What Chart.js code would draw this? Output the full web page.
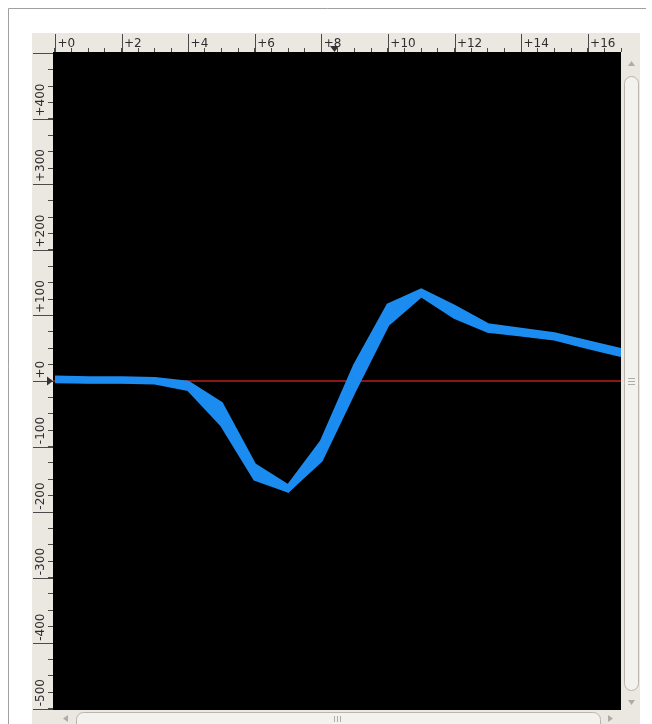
<!DOCTYPE html>
<html>
<head>
<meta charset="utf-8">
<script src="https://cdn.jsdelivr.net/npm/chart.js@4.4.1/dist/chart.umd.min.js"></script>
<style>
  html, body { margin: 0; padding: 0; background: #fff; }
  canvas { display: block; }
</style>
</head>
<body>
<canvas id="traceChart" width="652" height="724"></canvas>
<script>
// sample positions along the top ruler
const samples = [0, 1, 2, 3, 4, 5, 6, 7, 8, 9, 10, 11, 12, 13, 14, 15, 16, 17];

// overlapping traces
const trace1 = [6, 5, 5, 4, -2, -34, -128, -160, -92, 24, 116, 139, 114, 86, 79, 72, 60, 48];
const trace2 = [5, 4, 4, 3, -4, -38, -131, -162, -96, 19, 112, 138, 111, 84, 78, 71, 59, 47];
const trace3 = [4, 4, 3, 2, -5, -43, -135, -163, -99, 15, 108, 137, 109, 82, 77, 70, 57, 45];
const trace4 = [3, 3, 2, 1, -6, -47, -137, -164, -102, 11, 105, 135, 107, 81, 75, 69, 56, 44];
const trace5 = [2, 2, 1, 1, -8, -51, -140, -165, -106, 6, 101, 134, 105, 80, 74, 68, 55, 43];
const trace6 = [2, 1, 1, 0, -9, -55, -142, -166, -109, 2, 98, 133, 103, 79, 73, 67, 54, 42];
const trace7 = [1, 0, 0, -1, -10, -59, -144, -167, -113, -3, 94, 132, 101, 78, 72, 66, 53, 41];
const trace8 = [0, -1, -1, -2, -12, -63, -147, -168, -117, -9, 90, 131, 99, 77, 71, 65, 52, 40];
const trace9 = [-1, -2, -2, -3, -13, -67, -150, -168, -121, -15, 86, 130, 97, 76, 70, 64, 51, 39];
const traceSet = [trace1, trace2, trace3, trace4, trace5, trace6, trace7, trace8, trace9];

// zero reference
const zeroLevel = 0;

// ruler ranges and ticks
const xMin = -0.06;
const xMax = 17;
const xStep = 0.5;
const xLabelEvery = 2;
const yMin = -502;
const yMax = 502;
const yStep = 25;
const yLabelEvery = 100;

const rulerLabel = v => (v >= 0 ? '\u2009+' : '\u2009') + v;

const rulerPlugin = {
    id: 'ruler',
    beforeDraw(chart) {
        const ctx = chart.ctx;
        const a = chart.chartArea;
        ctx.save();
        ctx.fillStyle = '#fff';
        ctx.fillRect(0, 0, chart.width, chart.height);
        // window frame
        ctx.strokeStyle = '#a0a0a0';
        ctx.lineWidth = 1;
        ctx.beginPath();
        ctx.moveTo(8.5, chart.height);
        ctx.lineTo(8.5, 8.5);
        ctx.lineTo(646, 8.5);
        ctx.stroke();
        // rulers and scrollbars background
        ctx.fillStyle = '#ebe8e2';
        ctx.fillRect(32, 33, 608, chart.height - 33);
        // canvas
        ctx.fillStyle = '#000';
        ctx.fillRect(a.left, a.top, a.right - a.left, a.bottom - a.top);
        ctx.restore();
    },
    afterDraw(chart) {
        const ctx = chart.ctx;
        const a = chart.chartArea;
        const xs = chart.scales.x;
        const ys = chart.scales.y;
        ctx.save();
        ctx.strokeStyle = '#4a4a4a';
        ctx.lineWidth = 1;
        ctx.beginPath();
        xs.ticks.forEach(t => {
            if (t.value % xLabelEvery === 0) {
                const px = Math.round(xs.getPixelForValue(t.value)) + 0.5;
                ctx.moveTo(px, 34);
                ctx.lineTo(px, a.top);
            }
        });
        ys.ticks.forEach(t => {
            if (t.value % yLabelEvery === 0) {
                const py = Math.round(ys.getPixelForValue(t.value)) + 0.5;
                ctx.moveTo(33, py);
                ctx.lineTo(a.left, py);
            }
        });
        ctx.stroke();

        // pointer markers
        ctx.fillStyle = '#333';
        ctx.beginPath();
        ctx.moveTo(330, 46); ctx.lineTo(339, 46); ctx.lineTo(334.5, 52);
        ctx.closePath();
        ctx.fill();
        ctx.beginPath();
        ctx.moveTo(47, 376.5); ctx.lineTo(47, 385.5); ctx.lineTo(53, 381);
        ctx.closePath();
        ctx.fill();

        // scrollbars
        ctx.fillStyle = '#f4f2ee';
        ctx.strokeStyle = '#b9b5ad';
        ctx.beginPath();
        ctx.roundRect(624.5, 76.5, 14, 614, 7);
        ctx.fill();
        ctx.stroke();
        ctx.beginPath();
        ctx.roundRect(76.5, 712.5, 524, 20, 7);
        ctx.fill();
        ctx.stroke();

        ctx.fillStyle = '#b0aca4';
        ctx.beginPath();
        ctx.moveTo(628, 66); ctx.lineTo(635, 66); ctx.lineTo(631.5, 61); ctx.closePath();
        ctx.moveTo(628, 700); ctx.lineTo(635, 700); ctx.lineTo(631.5, 705); ctx.closePath();
        ctx.moveTo(68, 715); ctx.lineTo(68, 722); ctx.lineTo(63, 718.5); ctx.closePath();
        ctx.moveTo(608, 715); ctx.lineTo(608, 722); ctx.lineTo(613, 718.5); ctx.closePath();
        ctx.fill();

        ctx.strokeStyle = '#b0aca4';
        ctx.beginPath();
        [378.5, 381.5, 384.5].forEach(y => { ctx.moveTo(628, y); ctx.lineTo(635, y); });
        [334.5, 337.5, 340.5].forEach(x => { ctx.moveTo(x, 716); ctx.lineTo(x, 722); });
        ctx.stroke();
        ctx.restore();
    }
};

const traceDatasets = traceSet.map((values, i) => ({
    label: 'trace ' + (i + 1),
    data: samples.map((x, j) => ({ x: x, y: values[j] })),
    borderColor: 'rgb(28, 140, 240)',
    borderWidth: 3,
    pointRadius: 0,
    tension: 0,
    order: 1
}));

const zeroDataset = {
    label: 'zero',
    data: [{ x: xMin, y: zeroLevel }, { x: xMax, y: zeroLevel }],
    borderColor: 'rgb(140, 22, 22)',
    borderWidth: 2,
    pointRadius: 0,
    order: 2
};

Chart.defaults.font.family = '"DejaVu Sans", sans-serif';
Chart.defaults.font.size = 12;
Chart.defaults.color = '#2e2e2e';

new Chart(document.getElementById('traceChart'), {
    type: 'line',
    data: { datasets: [...traceDatasets, zeroDataset] },
    options: {
        responsive: false,
        animation: false,
        devicePixelRatio: 1,
        layout: { padding: { left: 35, top: 33, right: 31, bottom: 14 } },
        plugins: { legend: { display: false }, tooltip: { enabled: false } },
        scales: {
            x: {
                type: 'linear',
                position: 'top',
                min: xMin,
                max: xMax,
                border: { display: false },
                grid: { drawOnChartArea: false, tickLength: 4, tickColor: '#4a4a4a' },
                ticks: {
                    stepSize: xStep,
                    includeBounds: false,
                    autoSkip: false,
                    maxRotation: 0,
                    align: 'start',
                    padding: -3,
                    callback: v => (v % xLabelEvery === 0 && v < xMax - 0.5 ? rulerLabel(v) : '')
                },
                afterFit: s => {
                    s.height = 19;
                    s.paddingLeft = 0; s.paddingRight = 0; s.paddingTop = 0; s.paddingBottom = 0;
                }
            },
            y: {
                type: 'linear',
                position: 'left',
                min: yMin,
                max: yMax,
                border: { display: false },
                grid: { drawOnChartArea: false, tickLength: 5, tickColor: '#4a4a4a' },
                ticks: {
                    stepSize: yStep,
                    includeBounds: false,
                    autoSkip: false,
                    minRotation: 90,
                    maxRotation: 90,
                    crossAlign: 'far',
                    align: 'start',
                    callback: v => (v % yLabelEvery === 0 && v < yMax - 20 ? rulerLabel(v) : '')
                },
                afterFit: s => {
                    s.width = 18;
                    s.paddingLeft = 0; s.paddingRight = 0; s.paddingTop = 0; s.paddingBottom = 0;
                }
            }
        }
    },
    plugins: [rulerPlugin]
});
</script>
</body>
</html>
